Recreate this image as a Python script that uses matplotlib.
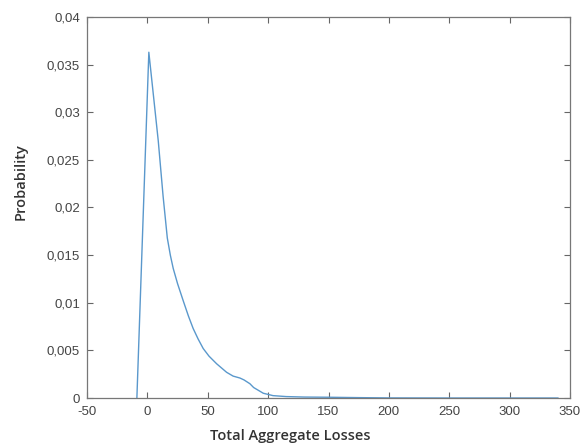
import matplotlib
matplotlib.use("Agg")
import matplotlib.pyplot as plt
from matplotlib.ticker import FuncFormatter

losses = [-8.7, 1.2, 9.0, 13.0, 16.5, 19.0, 21.4, 25.0, 29.7, 34.0, 37.9, 42.0, 46.2,
          51.0, 57.3, 65.6, 71.0, 76.6, 80.0, 84.9, 88.0, 92.0, 96.0, 104.0, 115.0,
          130.0, 150.0, 175.0, 200.0, 250.0, 300.0, 340.0]
probability = [0.0, 0.0363, 0.0270, 0.0212, 0.0168, 0.0150, 0.0136, 0.0120, 0.0102,
               0.0086, 0.0073, 0.0062, 0.0052, 0.0044, 0.0036, 0.0027, 0.0023, 0.0021,
               0.0019, 0.0015, 0.0011, 0.0008, 0.0005, 0.00025, 0.00015, 0.0001,
               0.00008, 0.00004, 0.00001, 0.0, 0.0, 0.0]

x_ticks = [-50, 0, 50, 100, 150, 200, 250, 300, 350]
y_ticks = [0, 0.005, 0.01, 0.015, 0.02, 0.025, 0.03, 0.035, 0.04]

fig = plt.figure(figsize=(5.84, 4.47), dpi=100)
ax = fig.add_axes([0.149, 0.1096, 0.827, 0.8524])
ax.plot(losses, probability, color="#5a98cc", linewidth=1.0)
ax.set_xlim(-50, 350)
ax.set_ylim(0, 0.04)
ax.set_xticks(x_ticks)
ax.set_yticks(y_ticks)

def fmt(v, pos):
    s = ("%g" % round(v, 4))
    return s.replace(".", ",")

ax.xaxis.set_major_formatter(FuncFormatter(fmt))
ax.yaxis.set_major_formatter(FuncFormatter(fmt))
ax.tick_params(direction="in", top=True, right=True, length=4, width=0.8,
               colors="#666666", labelsize=9.5, labelcolor="#444444")
ax.tick_params(axis="x", pad=6)
ax.tick_params(axis="y", pad=5)
for lab in ax.get_xticklabels() + ax.get_yticklabels():
    lab.set_family("Liberation Sans")
for s in ax.spines.values():
    s.set_color("#777777")
    s.set_linewidth(0.9)

ax.set_xlabel("Total Aggregate Losses", fontsize=10.5, family="Open Sans",
              weight="semibold", color="#333333")
ax.set_ylabel("Probability", fontsize=10.5, family="Open Sans",
              weight="semibold", color="#333333")
ax.xaxis.set_label_coords(0.42, -0.082)
ax.yaxis.set_label_coords(-0.122, 0.567)

fig.savefig("out.png", dpi=100)
